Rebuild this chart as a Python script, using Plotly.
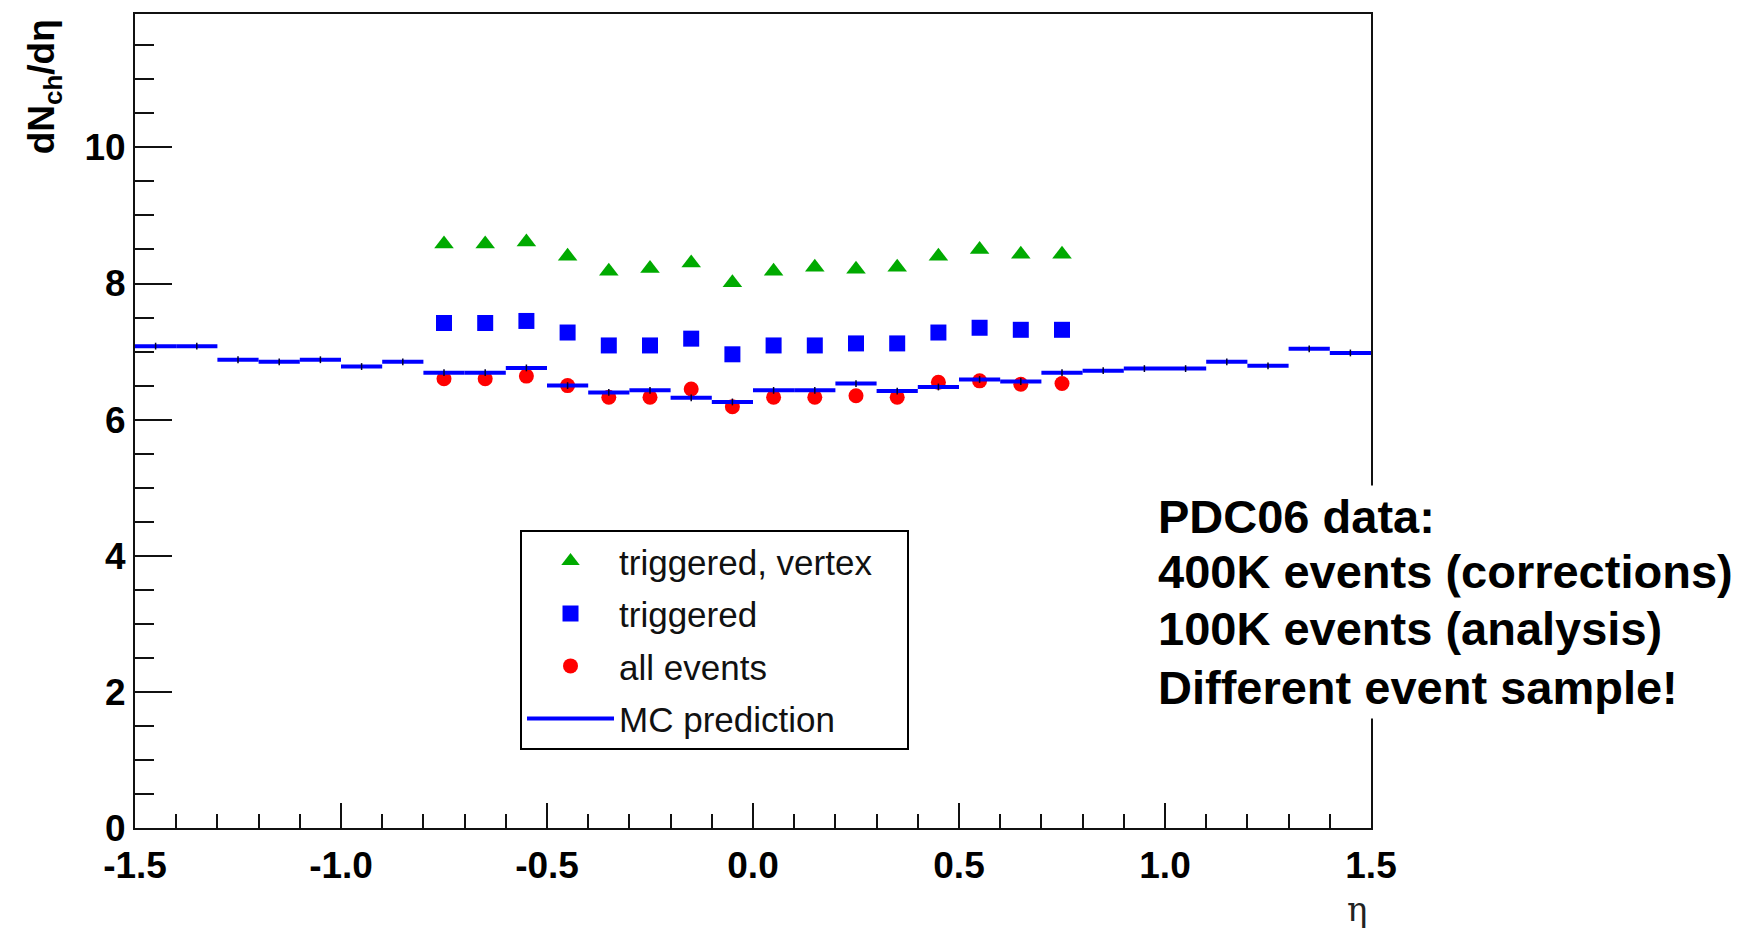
import plotly.graph_objects as go

# ---------------- data ----------------
eta_points = [-0.75, -0.65, -0.55, -0.45, -0.35, -0.25, -0.15, -0.05,
              0.05, 0.15, 0.25, 0.35, 0.45, 0.55, 0.65, 0.75]
trig_vertex = [8.58, 8.58, 8.61, 8.40, 8.18, 8.22, 8.30, 8.01,
               8.18, 8.24, 8.21, 8.24, 8.40, 8.50, 8.43, 8.43]
triggered = [7.42, 7.42, 7.45, 7.28, 7.09, 7.09, 7.19, 6.96,
             7.09, 7.09, 7.12, 7.12, 7.28, 7.35, 7.32, 7.32]
all_events = [6.60, 6.60, 6.64, 6.50, 6.33, 6.33, 6.45, 6.19,
              6.33, 6.33, 6.35, 6.33, 6.55, 6.57, 6.52, 6.53]

mc_centers = [-1.45, -1.35, -1.25, -1.15, -1.05, -0.95, -0.85, -0.75, -0.65, -0.55,
              -0.45, -0.35, -0.25, -0.15, -0.05, 0.05, 0.15, 0.25, 0.35, 0.45,
              0.55, 0.65, 0.75, 0.85, 0.95, 1.05, 1.15, 1.25, 1.35, 1.45]
mc_values = [7.08, 7.08, 6.88, 6.85, 6.88, 6.78, 6.85, 6.69, 6.69, 6.76,
             6.50, 6.40, 6.43, 6.32, 6.26, 6.43, 6.43, 6.53, 6.42, 6.48,
             6.59, 6.56, 6.69, 6.72, 6.75, 6.75, 6.85, 6.79, 7.04, 6.98]
mc_errors = [0.05] * len(mc_centers)
bin_width = 0.1

x_tickvals = [-1.5, -1.0, -0.5, 0.0, 0.5, 1.0, 1.5]
x_ticktext = ["-1.5", "-1.0", "-0.5", "0.0", "0.5", "1.0", "1.5"]

labels = ["triggered, vertex", "triggered", "all events", "MC prediction"]
note_lines = ["PDC06 data:", "400K events (corrections)",
              "100K events (analysis)", "Different event sample!"]

# ---------------- figure ----------------
FONT = "Liberation Sans, Arial, Helvetica, sans-serif"
fig = go.Figure()

fig.add_trace(go.Scatter(
    x=eta_points, y=trig_vertex, mode="markers",
    name=labels[0] + "\u00a0\u00a0\u00a0",
    legendgroup="a",
    marker=dict(symbol="triangle-up", size=17, color="#00aa00", line=dict(width=0))))
fig.add_trace(go.Scatter(
    x=eta_points, y=triggered, mode="markers", name=labels[1],
    legendgroup="b",
    marker=dict(symbol="square", size=16, color="#0000ff", line=dict(width=0))))
fig.add_trace(go.Scatter(
    x=eta_points, y=all_events, mode="markers", name=labels[2],
    legendgroup="c",
    marker=dict(symbol="circle", size=15, color="#ff0000", line=dict(width=0))))

# MC histogram: horizontal bin segments
seg_x, seg_y = [], []
for c, v in zip(mc_centers, mc_values):
    seg_x += [c - bin_width / 2, c + bin_width / 2, None]
    seg_y += [v, v, None]
fig.add_trace(go.Scatter(
    x=seg_x, y=seg_y, mode="lines", name=labels[3], legendgroup="d",
    line=dict(color="#0000ff", width=4)))
fig.add_trace(go.Scatter(
    x=mc_centers, y=mc_values, mode="markers", showlegend=False,
    marker=dict(size=1, color="rgba(0,0,0,0)"),
    error_y=dict(type="data", array=mc_errors, visible=True,
                 color="#000033", thickness=1.5, width=0)))

fig.update_layout(
    width=1753, height=931,
    margin=dict(l=135, r=382, t=12, b=103),
    paper_bgcolor="white", plot_bgcolor="white",
    font=dict(family=FONT, color="black"),
    showlegend=True,
    legend=dict(
        x=0.3115, y=0.3665, xanchor="left", yanchor="top",
        bgcolor="white", bordercolor="black", borderwidth=2,
        font=dict(family=FONT, size=35, color="#111"),
        traceorder="grouped", tracegroupgap=4,
        itemwidth=87,
    ),
)

fig.update_xaxes(
    range=[-1.5, 1.5], tickvals=x_tickvals, ticktext=x_ticktext,
    ticks="inside", ticklen=25, tickwidth=1.5, tickcolor="#111",
    ticklabelstandoff=4,
    showline=True, linecolor="#111", linewidth=2, mirror=True,
    showgrid=False, zeroline=False,
    tickfont=dict(family=FONT, size=37, color="black", weight="bold"),
    minor=dict(tickmode="linear", dtick=0.1, tick0=-1.5, ticks="inside", ticklen=14,
               tickwidth=1.5, tickcolor="#111", showgrid=False),
)
fig.update_yaxes(
    range=[0, 11.96], tick0=0, dtick=2,
    ticks="inside", ticklen=37, tickwidth=1.5, tickcolor="#111",
    showline=True, linecolor="#111", linewidth=2, mirror=True,
    showgrid=False, zeroline=False,
    tickfont=dict(family=FONT, size=37, color="black", weight="bold"),
    minor=dict(dtick=0.5, tick0=0, ticks="inside", ticklen=19,
               tickwidth=1.5, tickcolor="#111", showgrid=False),
)

# axis titles
fig.add_annotation(
    text="dN<sub>ch</sub>/dη", xref="paper", yref="paper",
    x=-0.074, y=0.996, xanchor="center", yanchor="top", textangle=-90,
    showarrow=False, font=dict(family=FONT, size=37, color="black", weight="bold"))
fig.add_annotation(
    text="η", xref="paper", yref="paper",
    x=0.9887, y=-0.1, xanchor="center", yanchor="middle",
    showarrow=False, font=dict(family="DejaVu Serif, serif", size=34, color="#222"))

# note text block: one line per annotation, white boxes overlap to hide frame
note_y = [0.3825, 0.3155, 0.2445, 0.1725]
for line, yy in zip(note_lines, note_y):
    fig.add_annotation(
        text=line, xref="paper", yref="paper",
        x=0.824, y=yy, xanchor="left", yanchor="middle", align="left",
        showarrow=False, bgcolor="white", borderpad=4,
        font=dict(family=FONT, size=47, color="black", weight="bold"))

fig.write_html("out.html")
